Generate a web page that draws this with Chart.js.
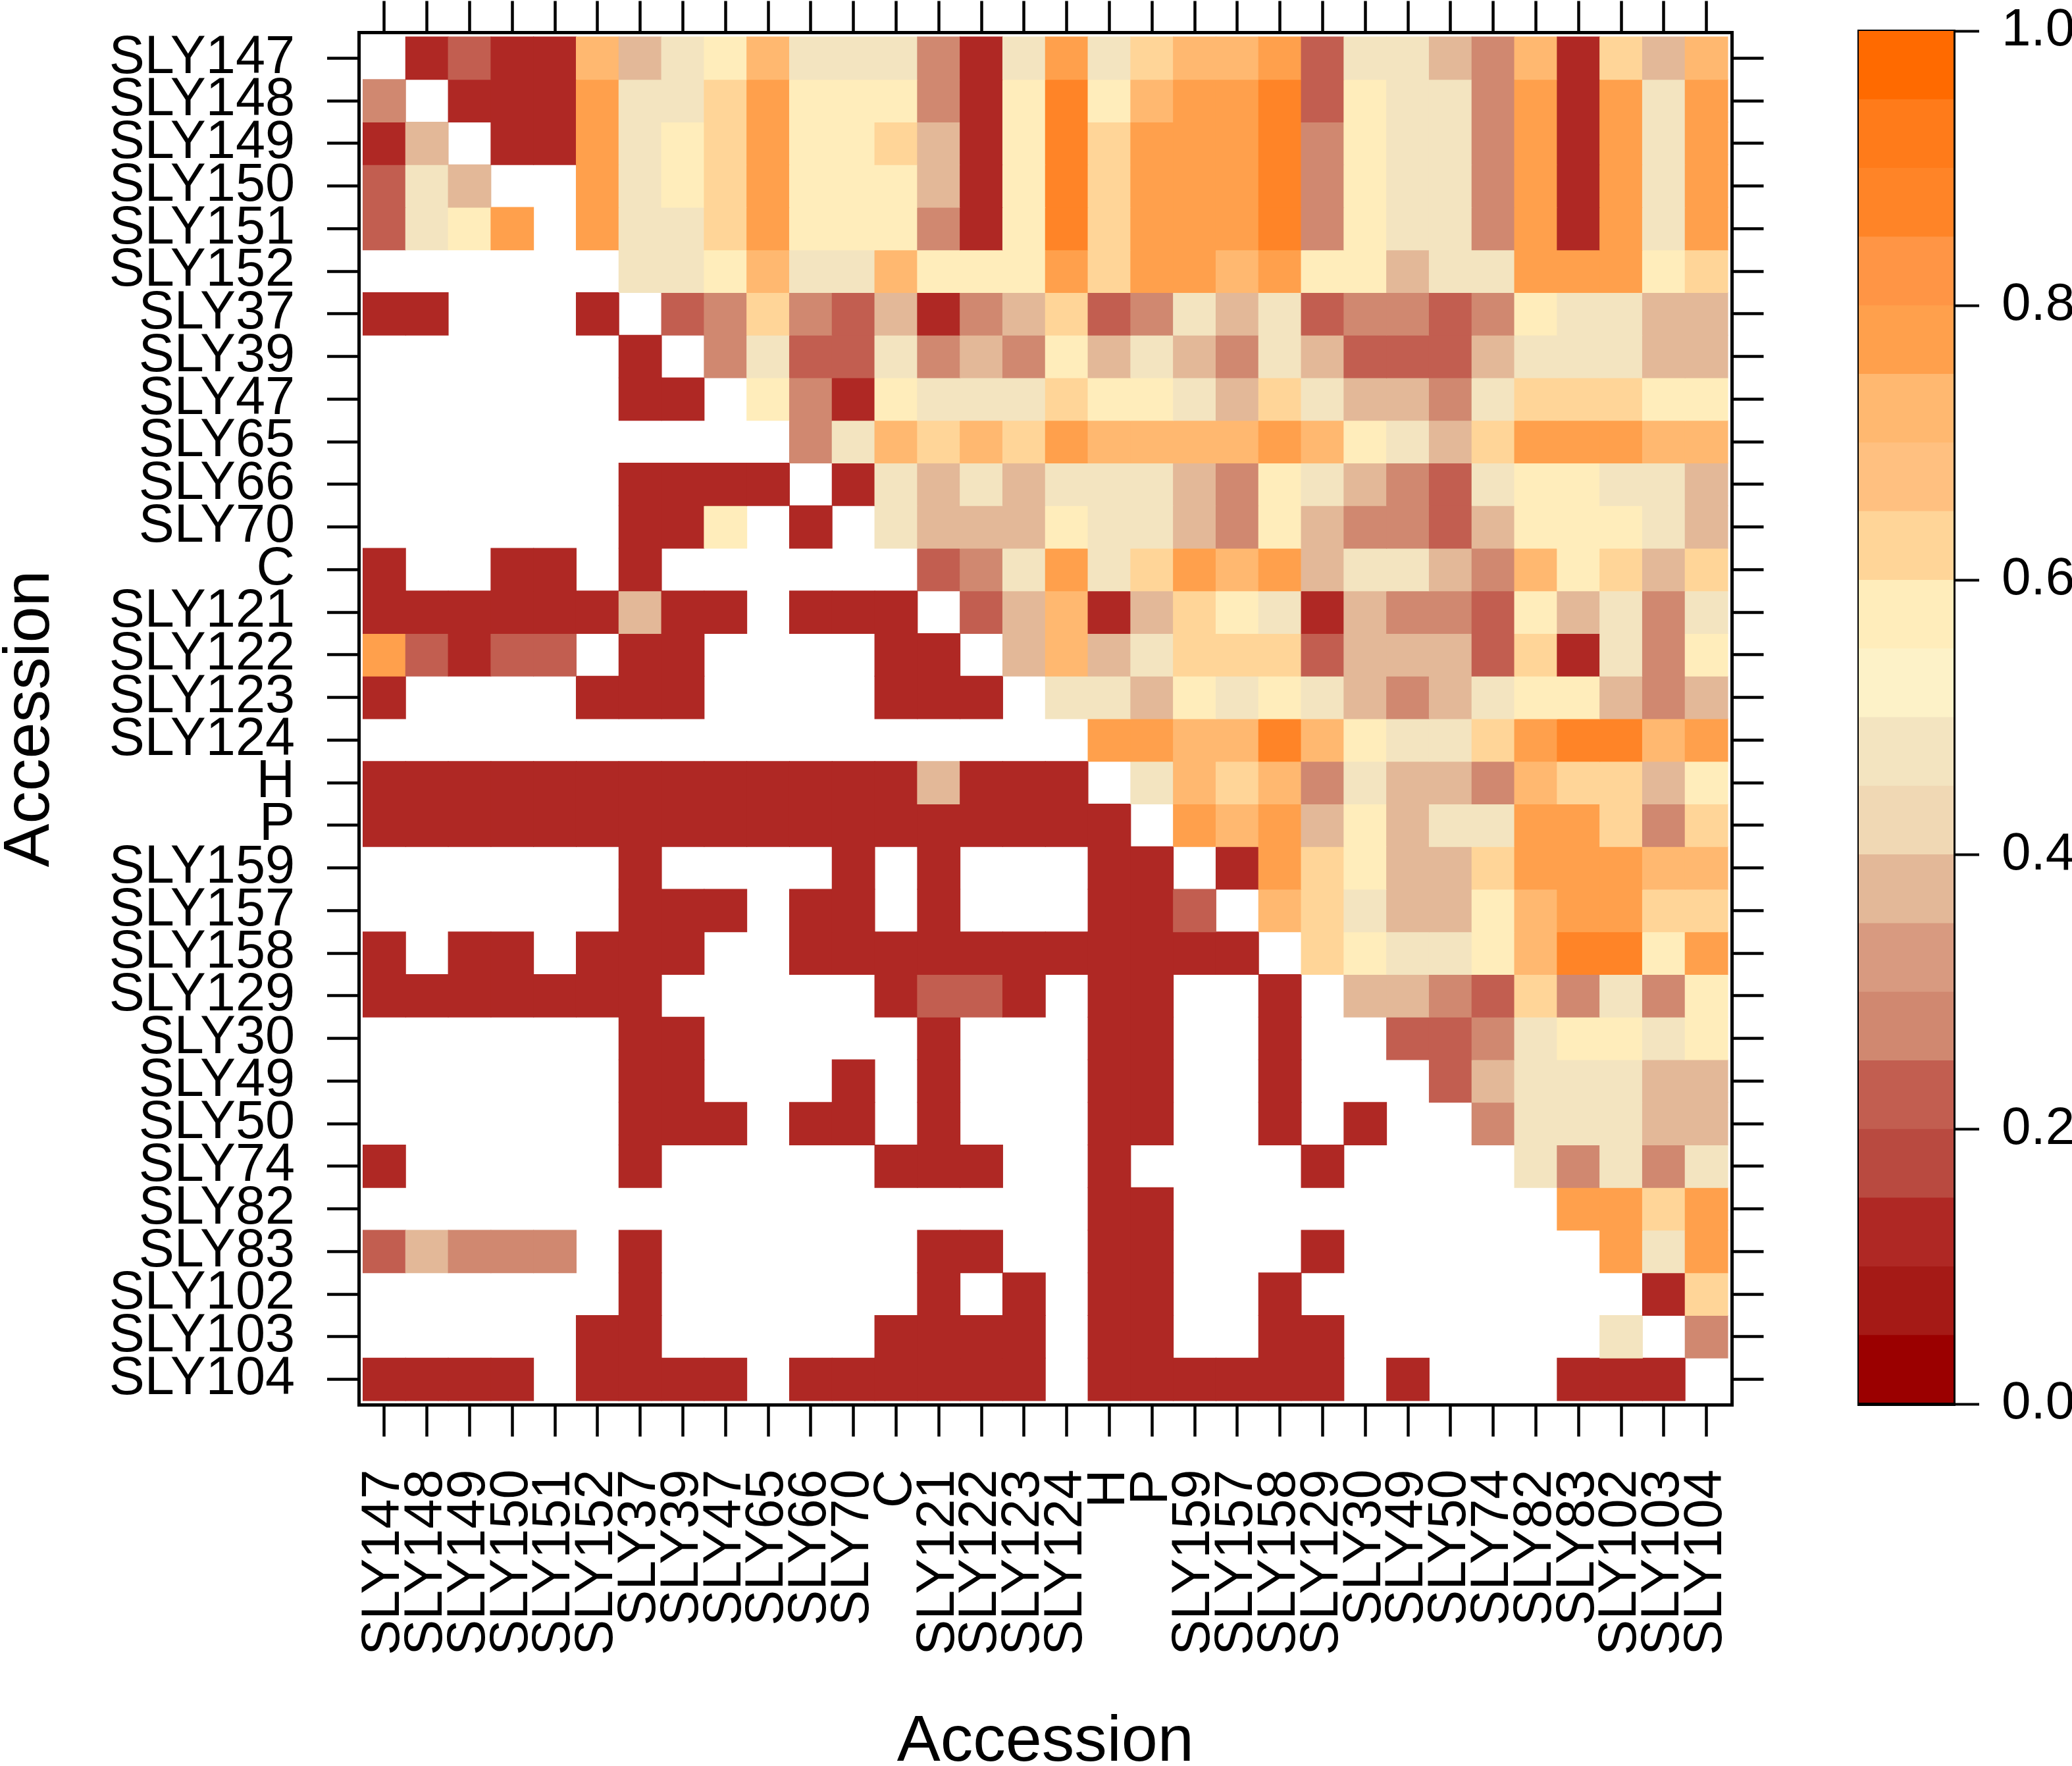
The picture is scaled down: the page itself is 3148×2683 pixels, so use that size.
<!DOCTYPE html>
<html>
<head>
<meta charset="utf-8">
<script src="https://cdn.jsdelivr.net/npm/chart.js@4.4.1/dist/chart.umd.min.js"></script>
<style>
html,body{margin:0;padding:0;background:#ffffff;}
#wrap{position:relative;width:3148px;height:2683px;overflow:hidden;background:#ffffff;}
#main{position:absolute;left:0;top:0;}
#cbar{position:absolute;left:2700px;top:0;}
</style>
</head>
<body>
<div id="wrap">
<canvas id="main" width="3148" height="2683"></canvas>
<canvas id="cbar" width="448" height="2683"></canvas>
</div>
<script>
// ---- categories ----
const accessions = ["SLY147","SLY148","SLY149","SLY150","SLY151","SLY152","SLY37","SLY39","SLY47","SLY65","SLY66","SLY70","C","SLY121","SLY122","SLY123","SLY124","H","P","SLY159","SLY157","SLY158","SLY129","SLY30","SLY49","SLY50","SLY74","SLY82","SLY83","SLY102","SLY103","SLY104"];

// ---- matrix rows (one per accession, columns in the same order; null = blank cell) ----
const rowSLY147 = [null,0.12,0.22,0.12,0.12,0.72,0.38,0.47,0.57,0.72,0.47,0.47,0.47,0.28,0.12,0.47,0.78,0.47,0.62,0.72,0.72,0.78,0.22,0.47,0.47,0.38,0.28,0.72,0.12,0.62,0.38,0.72];
const rowSLY148 = [0.28,null,0.12,0.12,0.12,0.78,0.47,0.47,0.62,0.78,0.57,0.57,0.57,0.28,0.12,0.57,0.87,0.57,0.72,0.78,0.78,0.87,0.22,0.57,0.47,0.47,0.28,0.78,0.12,0.78,0.47,0.78];
const rowSLY149 = [0.12,0.38,null,0.12,0.12,0.78,0.47,0.57,0.62,0.78,0.57,0.57,0.62,0.38,0.12,0.57,0.87,0.62,0.78,0.78,0.78,0.87,0.28,0.57,0.47,0.47,0.28,0.78,0.12,0.78,0.47,0.78];
const rowSLY150 = [0.22,0.47,0.38,null,null,0.78,0.47,0.57,0.62,0.78,0.57,0.57,0.57,0.38,0.12,0.57,0.87,0.62,0.78,0.78,0.78,0.87,0.28,0.57,0.47,0.47,0.28,0.78,0.12,0.78,0.47,0.78];
const rowSLY151 = [0.22,0.47,0.57,0.78,null,0.78,0.47,0.47,0.62,0.78,0.57,0.57,0.57,0.28,0.12,0.57,0.87,0.62,0.78,0.78,0.78,0.87,0.28,0.57,0.47,0.47,0.28,0.78,0.12,0.78,0.47,0.78];
const rowSLY152 = [null,null,null,null,null,null,0.47,0.47,0.57,0.72,0.47,0.47,0.72,0.57,0.57,0.57,0.78,0.62,0.78,0.78,0.72,0.78,0.57,0.57,0.38,0.47,0.47,0.78,0.78,0.78,0.57,0.62];
const rowSLY37  = [0.12,0.12,null,null,null,0.12,null,0.22,0.28,0.62,0.28,0.22,0.38,0.12,0.28,0.38,0.62,0.22,0.28,0.47,0.38,0.47,0.22,0.28,0.28,0.22,0.28,0.57,0.47,0.47,0.38,0.38];
const rowSLY39  = [null,null,null,null,null,null,0.12,null,0.28,0.47,0.22,0.22,0.47,0.28,0.38,0.28,0.57,0.38,0.47,0.38,0.28,0.47,0.38,0.22,0.22,0.22,0.38,0.47,0.47,0.47,0.38,0.38];
const rowSLY47  = [null,null,null,null,null,null,0.12,0.12,null,0.57,0.28,0.12,0.57,0.47,0.47,0.47,0.62,0.57,0.57,0.47,0.38,0.62,0.47,0.38,0.38,0.28,0.47,0.62,0.62,0.62,0.57,0.57];
const rowSLY65  = [null,null,null,null,null,null,null,null,null,null,0.28,0.47,0.72,0.62,0.72,0.62,0.78,0.72,0.72,0.72,0.72,0.78,0.72,0.57,0.47,0.38,0.62,0.78,0.78,0.78,0.72,0.72];
const rowSLY66  = [null,null,null,null,null,null,0.12,0.12,0.12,0.12,null,0.12,0.47,0.38,0.47,0.38,0.47,0.47,0.47,0.38,0.28,0.57,0.47,0.38,0.28,0.22,0.47,0.57,0.57,0.47,0.47,0.38];
const rowSLY70  = [null,null,null,null,null,null,0.12,0.12,0.57,null,0.12,null,0.47,0.38,0.38,0.38,0.57,0.47,0.47,0.38,0.28,0.57,0.38,0.28,0.28,0.22,0.38,0.57,0.57,0.57,0.47,0.38];
const rowC      = [0.12,null,null,0.12,0.12,null,0.12,null,null,null,null,null,null,0.22,0.28,0.47,0.78,0.47,0.62,0.78,0.72,0.78,0.38,0.47,0.47,0.38,0.28,0.72,0.57,0.62,0.38,0.62];
const rowSLY121 = [0.12,0.12,0.12,0.12,0.12,0.12,0.38,0.12,0.12,null,0.12,0.12,0.12,null,0.22,0.38,0.72,0.12,0.38,0.62,0.57,0.47,0.12,0.38,0.28,0.28,0.22,0.57,0.38,0.47,0.28,0.47];
const rowSLY122 = [0.78,0.22,0.12,0.22,0.22,null,0.12,0.12,null,null,null,null,0.12,0.12,null,0.38,0.72,0.38,0.47,0.62,0.62,0.62,0.22,0.38,0.38,0.38,0.22,0.62,0.12,0.47,0.28,0.57];
const rowSLY123 = [0.12,null,null,null,null,0.12,0.12,0.12,null,null,null,null,0.12,0.12,0.12,null,0.47,0.47,0.38,0.57,0.47,0.57,0.47,0.38,0.28,0.38,0.47,0.57,0.57,0.38,0.28,0.38];
const rowSLY124 = [null,null,null,null,null,null,null,null,null,null,null,null,null,null,null,null,null,0.78,0.78,0.72,0.72,0.87,0.72,0.57,0.47,0.47,0.62,0.78,0.87,0.87,0.72,0.78];
const rowH      = [0.12,0.12,0.12,0.12,0.12,0.12,0.12,0.12,0.12,0.12,0.12,0.12,0.12,0.38,0.12,0.12,0.12,null,0.47,0.72,0.62,0.72,0.28,0.47,0.38,0.38,0.28,0.72,0.62,0.62,0.38,0.57];
const rowP      = [0.12,0.12,0.12,0.12,0.12,0.12,0.12,0.12,0.12,0.12,0.12,0.12,0.12,0.12,0.12,0.12,0.12,0.12,null,0.78,0.72,0.78,0.38,0.57,0.38,0.47,0.47,0.78,0.78,0.62,0.28,0.62];
const rowSLY159 = [null,null,null,null,null,null,0.12,null,null,null,null,0.12,null,0.12,null,null,null,0.12,0.12,null,0.12,0.78,0.62,0.57,0.38,0.38,0.62,0.78,0.78,0.78,0.72,0.72];
const rowSLY157 = [null,null,null,null,null,null,0.12,0.12,0.12,null,0.12,0.12,null,0.12,null,null,null,0.12,0.12,0.22,null,0.72,0.62,0.47,0.38,0.38,0.57,0.72,0.78,0.78,0.62,0.62];
const rowSLY158 = [0.12,null,0.12,0.12,null,0.12,0.12,0.12,null,null,0.12,0.12,0.12,0.12,0.12,0.12,0.12,0.12,0.12,0.12,0.12,null,0.62,0.57,0.47,0.47,0.57,0.72,0.87,0.87,0.57,0.78];
const rowSLY129 = [0.12,0.12,0.12,0.12,0.12,0.12,0.12,null,null,null,null,null,0.12,0.22,0.22,0.12,null,0.12,0.12,null,null,0.12,null,0.38,0.38,0.28,0.22,0.62,0.28,0.47,0.28,0.57];
const rowSLY30  = [null,null,null,null,null,null,0.12,0.12,null,null,null,null,null,0.12,null,null,null,0.12,0.12,null,null,0.12,null,null,0.22,0.22,0.28,0.47,0.57,0.57,0.47,0.57];
const rowSLY49  = [null,null,null,null,null,null,0.12,0.12,null,null,null,0.12,null,0.12,null,null,null,0.12,0.12,null,null,0.12,null,null,null,0.22,0.38,0.47,0.47,0.47,0.38,0.38];
const rowSLY50  = [null,null,null,null,null,null,0.12,0.12,0.12,null,0.12,0.12,null,0.12,null,null,null,0.12,0.12,null,null,0.12,null,0.12,null,null,0.28,0.47,0.47,0.47,0.38,0.38];
const rowSLY74  = [0.12,null,null,null,null,null,0.12,null,null,null,null,null,0.12,0.12,0.12,null,null,0.12,null,null,null,null,0.12,null,null,null,null,0.47,0.28,0.47,0.28,0.47];
const rowSLY82  = [null,null,null,null,null,null,null,null,null,null,null,null,null,null,null,null,null,0.12,0.12,null,null,null,null,null,null,null,null,null,0.78,0.78,0.62,0.78];
const rowSLY83  = [0.22,0.38,0.28,0.28,0.28,null,0.12,null,null,null,null,null,null,0.12,0.12,null,null,0.12,0.12,null,null,null,0.12,null,null,null,null,null,null,0.78,0.47,0.78];
const rowSLY102 = [null,null,null,null,null,null,0.12,null,null,null,null,null,null,0.12,null,0.12,null,0.12,0.12,null,null,0.12,null,null,null,null,null,null,null,null,0.12,0.62];
const rowSLY103 = [null,null,null,null,null,0.12,0.12,null,null,null,null,null,0.12,0.12,0.12,0.12,null,0.12,0.12,null,null,0.12,0.12,null,null,null,null,null,null,0.47,null,0.28];
const rowSLY104 = [0.12,0.12,0.12,0.12,null,0.12,0.12,0.12,0.12,null,0.12,0.12,0.12,0.12,0.12,0.12,null,0.12,0.12,0.12,0.12,0.12,0.12,null,0.12,null,null,null,0.12,0.12,0.12,null];

const matrix = [rowSLY147,rowSLY148,rowSLY149,rowSLY150,rowSLY151,rowSLY152,rowSLY37,rowSLY39,rowSLY47,rowSLY65,rowSLY66,rowSLY70,rowC,rowSLY121,rowSLY122,rowSLY123,rowSLY124,rowH,rowP,rowSLY159,rowSLY157,rowSLY158,rowSLY129,rowSLY30,rowSLY49,rowSLY50,rowSLY74,rowSLY82,rowSLY83,rowSLY102,rowSLY103,rowSLY104];

// ---- colour key ----
const colorBreaks = [0,0.05,0.1,0.15,0.2,0.25,0.3,0.35,0.4,0.45,0.5,0.55,0.6,0.65,0.7,0.75,0.8,0.85,0.9,0.95,1.0];
const colorPalette = ["#9b0000","#a51a16","#af2824","#b94a40","#c25e50","#d08870","#d89a80","#e3b898","#f0d8b4","#f3e4c0","#fdf2c8","#ffedbb","#ffd598","#ffc080","#ffb870","#ffa04c","#ff9545","#ff8427","#ff7b1a","#ff6a00"];
const colorbarTicks = [0,0.2,0.4,0.6,0.8,1.0];
const axisTitle = "Accession";

function colorFor(v) {
  for (let k = 0; k < colorPalette.length; k++) {
    if (v < colorBreaks[k + 1]) return colorPalette[k];
  }
  return colorPalette[colorPalette.length - 1];
}

Chart.defaults.font.family = "'Liberation Sans', Arial, Helvetica, sans-serif";
Chart.defaults.color = "#000000";

const n = accessions.length;
const FONT_TICK = {family: "'Liberation Sans', Arial, sans-serif", size: 81};
const FONT_TITLE = {family: "'Liberation Sans', Arial, sans-serif", size: 99, lineHeight: 1};

function zeroPad(s) { s.paddingLeft = 0; s.paddingRight = 0; s.paddingTop = 0; s.paddingBottom = 0; }
function centerTicks(s) { s.ticks = accessions.map((_, k) => ({value: k + 0.5})); }

const gridOpts = {display: true, drawOnChartArea: false, drawTicks: true, tickLength: 48, tickWidth: 4.5, tickColor: "#000", lineWidth: 5, offset: false};
const borderOpts = {display: true, color: "#000", width: 5};

const datasets = matrix.map((row, i) => ({
  label: accessions[i],
  xAxisID: "x",
  yAxisID: "y",
  data: row.map((v, j) => ({x: j + 0.5, y: v === null ? null : [n - 1 - i, n - i]})),
  backgroundColor: row.map(v => v === null ? "rgba(0,0,0,0)" : colorFor(v)),
  borderWidth: 0,
  grouped: false,
  categoryPercentage: 1,
  barPercentage: 1,
  inflateAmount: 0.5
}));

new Chart(document.getElementById("main"), {
  type: "bar",
  data: {datasets: datasets},
  options: {
    responsive: false,
    animation: false,
    devicePixelRatio: 1,
    layout: {autoPadding: false, padding: {left: 0, top: 1.5, right: 468.5, bottom: 0}},
    plugins: {legend: {display: false}, tooltip: {enabled: false}},
    scales: {
      x: {
        type: "linear", position: "bottom", min: -0.1, max: 32.1, offset: false,
        afterBuildTicks: centerTicks,
        afterFit: s => { s.height = 2683 - 2134.5; zeroPad(s); },
        ticks: {autoSkip: false, minRotation: 90, maxRotation: 90, padding: 50, color: "#000", font: FONT_TICK,
                callback: v => accessions[Math.round(v - 0.5)]},
        grid: gridOpts, border: borderOpts,
        title: {display: true, text: axisTitle, color: "#000", font: FONT_TITLE, padding: {top: 0, bottom: -14}}
      },
      x2: {
        type: "linear", position: "top", min: -0.1, max: 32.1, offset: false,
        afterBuildTicks: centerTicks,
        afterFit: s => { s.height = 48; zeroPad(s); },
        ticks: {display: false},
        grid: gridOpts, border: borderOpts
      },
      y: {
        type: "linear", position: "left", min: -0.1, max: 32.1, offset: false,
        afterBuildTicks: centerTicks,
        afterFit: s => { s.width = 545; zeroPad(s); },
        ticks: {autoSkip: false, padding: 49, color: "#000", font: FONT_TICK,
                callback: v => accessions[n - 1 - Math.round(v - 0.5)]},
        grid: gridOpts, border: borderOpts,
        title: {display: true, text: axisTitle, color: "#000", font: FONT_TITLE, padding: {top: -3, bottom: 0}}
      },
      y2: {
        type: "linear", position: "right", min: -0.1, max: 32.1, offset: false,
        afterBuildTicks: centerTicks,
        afterFit: s => { s.width = 48; zeroPad(s); },
        ticks: {display: false},
        grid: gridOpts, border: borderOpts
      }
    }
  }
});

// ---- colour key chart ----
const keyDatasets = colorPalette.map((c, k) => ({
  xAxisID: "x", yAxisID: "y",
  data: [[colorBreaks[k], colorBreaks[k + 1]]],
  backgroundColor: c,
  borderWidth: 0,
  grouped: false,
  categoryPercentage: 1,
  barPercentage: 1,
  inflateAmount: 0.5
}));

new Chart(document.getElementById("cbar"), {
  type: "bar",
  data: {labels: [""], datasets: keyDatasets},
  options: {
    responsive: false,
    animation: false,
    devicePixelRatio: 1,
    layout: {autoPadding: false, padding: {left: 124, top: 47, right: 0, bottom: 0}},
    plugins: {legend: {display: false}, tooltip: {enabled: false}},
    scales: {
      x: {
        type: "category", position: "bottom", offset: true,
        afterFit: s => { s.height = 2683 - 2133; zeroPad(s); },
        ticks: {display: false},
        grid: {display: false, lineWidth: 5, drawTicks: false},
        border: borderOpts
      },
      xt: {
        type: "category", position: "top", offset: true,
        afterFit: s => { s.height = 0; zeroPad(s); },
        ticks: {display: false},
        grid: {display: false, lineWidth: 5, drawTicks: false},
        border: borderOpts
      },
      yl: {
        type: "linear", position: "left", min: 0, max: 1,
        afterFit: s => { s.width = 0; zeroPad(s); },
        ticks: {display: false},
        grid: {display: false, lineWidth: 5, drawTicks: false},
        border: borderOpts
      },
      y: {
        type: "linear", position: "right", min: 0, max: 1,
        afterBuildTicks: s => { s.ticks = colorbarTicks.map(v => ({value: v})); },
        afterFit: s => { s.width = 180; zeroPad(s); },
        ticks: {padding: 34, color: "#000", font: {family: "'Liberation Sans', Arial, sans-serif", size: 80},
                callback: v => Number(v).toFixed(1)},
        grid: {display: true, drawOnChartArea: false, drawTicks: true, tickLength: 39, tickWidth: 4, tickColor: "#000", lineWidth: 5},
        border: borderOpts
      }
    }
  }
});
</script>
</body>
</html>
